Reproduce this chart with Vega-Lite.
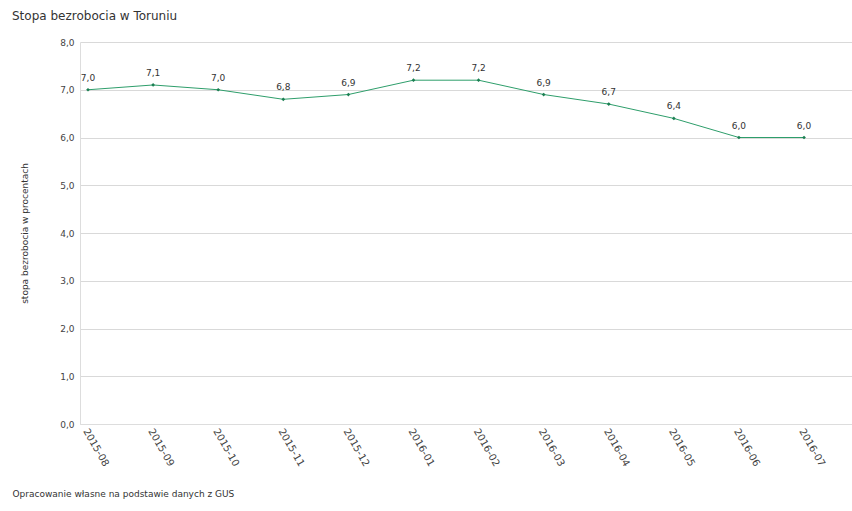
{
  "$schema": "https://vega.github.io/schema/vega-lite/v6.json",
  "width": 772,
  "height": 382,
  "autosize": {"type": "none"},
  "padding": {"left": 80, "top": 42, "right": 0, "bottom": 87},
  "background": "white",
  "config": {
    "font": "DejaVu Sans",
    "view": {"stroke": null},
    "locale": {
      "number": {"decimal": ",", "thousands": " ", "grouping": [3], "currency": ["", " zł"]}
    }
  },
  "title": {
    "text": "Stopa bezrobocia w Toruniu",
    "anchor": "start",
    "frame": "group",
    "dx": -68,
    "offset": 15,
    "fontSize": 12,
    "fontWeight": "normal",
    "color": "#333333",
    "font": "DejaVu Sans"
  },
  "data": {
    "values": [
      {"miesiac": "2015-08", "stopa": 7.0},
      {"miesiac": "2015-09", "stopa": 7.1},
      {"miesiac": "2015-10", "stopa": 7.0},
      {"miesiac": "2015-11", "stopa": 6.8},
      {"miesiac": "2015-12", "stopa": 6.9},
      {"miesiac": "2016-01", "stopa": 7.2},
      {"miesiac": "2016-02", "stopa": 7.2},
      {"miesiac": "2016-03", "stopa": 6.9},
      {"miesiac": "2016-04", "stopa": 6.7},
      {"miesiac": "2016-05", "stopa": 6.4},
      {"miesiac": "2016-06", "stopa": 6.0},
      {"miesiac": "2016-07", "stopa": 6.0}
    ]
  },
  "encoding": {
    "x": {
      "field": "miesiac",
      "type": "ordinal",
      "sort": null,
      "scale": {"type": "point", "padding": 0.43, "align": 0.143},
      "axis": {
        "title": "Opracowanie własne na podstawie danych z GUS",
        "titleX": -68,
        "titleY": 69,
        "titleAlign": "left",
        "titleBaseline": "middle",
        "titleFontSize": 9,
        "titleFontWeight": "normal",
        "titleColor": "#333333",
        "labelAngle": 60,
        "labelAlign": "left",
        "labelBaseline": "middle",
        "labelFontSize": 10,
        "labelColor": "#444444",
        "labelPadding": 5,
        "labelOffset": -3,
        "ticks": false,
        "domain": true,
        "domainColor": "#dddddd",
        "grid": false
      }
    },
    "y": {
      "field": "stopa",
      "type": "quantitative",
      "scale": {"domain": [0, 8], "nice": false},
      "axis": {
        "title": "stopa bezrobocia w procentach",
        "titleFontSize": 9,
        "titleFontWeight": "normal",
        "titleColor": "#333333",
        "titlePadding": 30,
        "values": [0, 1, 2, 3, 4, 5, 6, 7, 8],
        "format": ".1f",
        "labelFontSize": 9,
        "labelColor": "#444444",
        "labelPadding": 6,
        "ticks": false,
        "domain": true,
        "domainColor": "#dddddd",
        "gridColor": "#d9d9d9",
        "gridWidth": 1
      }
    }
  },
  "layer": [
    {
      "mark": {"type": "line", "color": "#2e9e6b", "strokeWidth": 1}
    },
    {
      "mark": {"type": "point", "shape": "diamond", "filled": true, "size": 14, "color": "#1b7f52", "opacity": 1}
    },
    {
      "mark": {"type": "text", "dy": -12, "fontSize": 9, "color": "#333333", "font": "DejaVu Sans"},
      "encoding": {
        "text": {"field": "stopa", "type": "quantitative", "format": ".1f"}
      }
    }
  ]
}
